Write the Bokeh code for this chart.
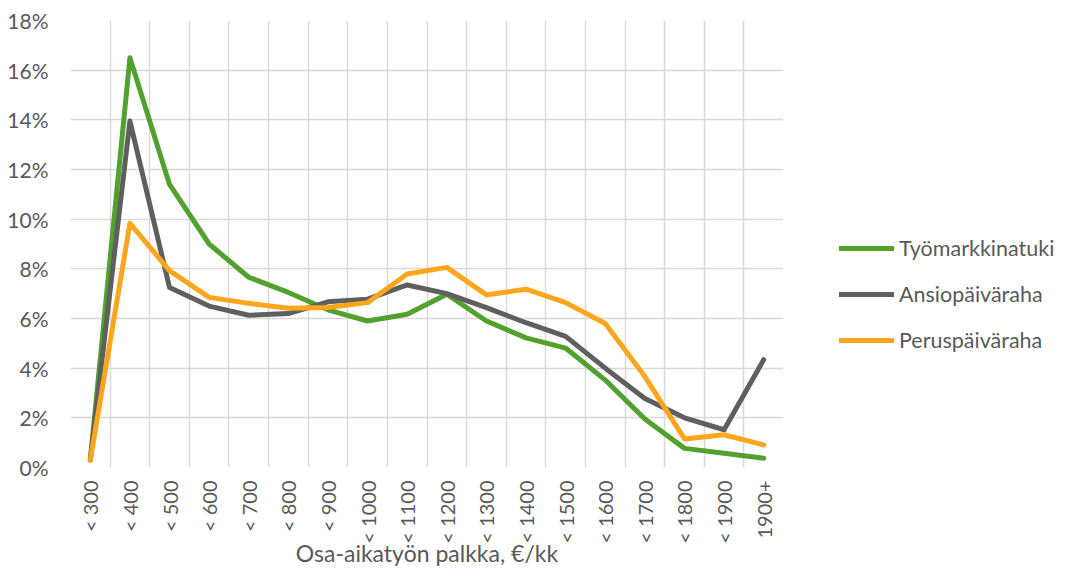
import math
from bokeh.plotting import figure
from bokeh.layouts import row
from bokeh.models import (FactorRange, Range1d, FixedTicker, NumeralTickFormatter,
                          Legend, LegendItem)
from bokeh.embed import file_html
from bokeh.resources import INLINE

categories = ["< 300", "< 400", "< 500", "< 600", "< 700", "< 800", "< 900",
              "< 1000", "< 1100", "< 1200", "< 1300", "< 1400", "< 1500",
              "< 1600", "< 1700", "< 1800", "< 1900", "1900+"]

tyomarkkinatuki = [0.003, 0.165, 0.114, 0.090, 0.0766, 0.0705, 0.0635, 0.059,
                   0.0617, 0.0698, 0.059, 0.0522, 0.0481, 0.0352, 0.0195,
                   0.0077, 0.0057, 0.0037]
ansiopaivaraha = [0.003, 0.1395, 0.0725, 0.065, 0.0613, 0.062, 0.0667, 0.0678,
                  0.0735, 0.070, 0.0644, 0.0583, 0.0528, 0.040, 0.0278,
                  0.020, 0.0152, 0.0434]
peruspaivaraha = [0.003, 0.0983, 0.0793, 0.0685, 0.0661, 0.0641, 0.0644,
                  0.0664, 0.0779, 0.0806, 0.0695, 0.0718, 0.0664, 0.058,
                  0.0366, 0.0115, 0.0132, 0.0091]

series_names = ["Työmarkkinatuki", "Ansiopäiväraha", "Peruspäiväraha"]
series_colors = ["#52A02E", "#5F5F5F", "#FCA61E"]
y_ticks = [0.0, 0.02, 0.04, 0.06, 0.08, 0.10, 0.12, 0.14, 0.16, 0.18]
x_title = "Osa-aikatyön palkka, €/kk"

FONT = "Lato"
TEXT = "#595959"
GRID = "#D9D9D9"

p = figure(width=784, height=569, output_backend="svg", toolbar_location=None,
           x_range=FactorRange(factors=categories), y_range=Range1d(0, 0.18),
           min_border_left=70, min_border_right=1, min_border_top=20,
           min_border_bottom=10)
p.outline_line_color = None
p.background_fill_color = "white"
p.border_fill_color = "white"

for vals, col in zip([tyomarkkinatuki, ansiopaivaraha, peruspaivaraha],
                     series_colors):
    p.line(x=categories, y=vals, line_color=col, line_width=5,
           line_cap="round", line_join="round")

# grid lines
p.xgrid.ticker = FixedTicker(ticks=list(range(len(categories) + 1)))
p.xgrid.grid_line_color = GRID
p.xgrid.grid_line_width = 1.5
p.ygrid.ticker = FixedTicker(ticks=y_ticks)
p.ygrid.grid_line_color = GRID
p.ygrid.grid_line_width = 1.5

# y axis
p.yaxis.ticker = FixedTicker(ticks=y_ticks)
p.yaxis.formatter = NumeralTickFormatter(format="0%")
p.yaxis.axis_line_color = None
p.yaxis.major_tick_line_color = None
p.yaxis.minor_tick_line_color = None
p.yaxis.major_tick_out = 0
p.yaxis.major_label_standoff = 22
p.yaxis.major_label_text_font = FONT
p.yaxis.major_label_text_font_size = "21px"
p.yaxis.major_label_text_color = TEXT

# x axis
p.xaxis.axis_line_color = None
p.xaxis.major_tick_line_color = None
p.xaxis.major_tick_out = 0
p.xaxis.major_label_orientation = math.pi / 2
p.xaxis.major_label_standoff = 13
p.xaxis.major_label_text_font = FONT
p.xaxis.major_label_text_font_size = "20px"
p.xaxis.major_label_text_color = TEXT
p.xaxis.axis_label = x_title
p.xaxis.axis_label_text_font = FONT
p.xaxis.axis_label_text_font_size = "23px"
p.xaxis.axis_label_text_font_style = "normal"
p.xaxis.axis_label_text_color = TEXT
p.xaxis.axis_label_standoff = -8

# legend panel
leg = figure(width=273, height=569, output_backend="svg", toolbar_location=None,
             x_range=Range1d(1, 2), y_range=Range1d(1, 2),
             x_axis_location=None, y_axis_location=None, min_border=0)
leg.outline_line_color = None
leg.grid.visible = False
dummies = [leg.line(x=[0], y=[0], line_color=c, line_width=5, line_cap="round")
           for c in series_colors]

legend = Legend(items=[LegendItem(label=n, renderers=[r])
                       for n, r in zip(series_names, dummies)],
                location=(55, 114), orientation="vertical",
                glyph_width=55, glyph_height=22, label_height=22,
                label_standoff=5, spacing=20, padding=0, margin=0,
                border_line_color=None, background_fill_alpha=0,
                label_text_font=FONT, label_text_font_size="21.5px",
                label_text_color=TEXT)
leg.add_layout(legend, "center")

layout = row(p, leg, spacing=0)
open("out.html", "w").write(file_html(layout, INLINE))
